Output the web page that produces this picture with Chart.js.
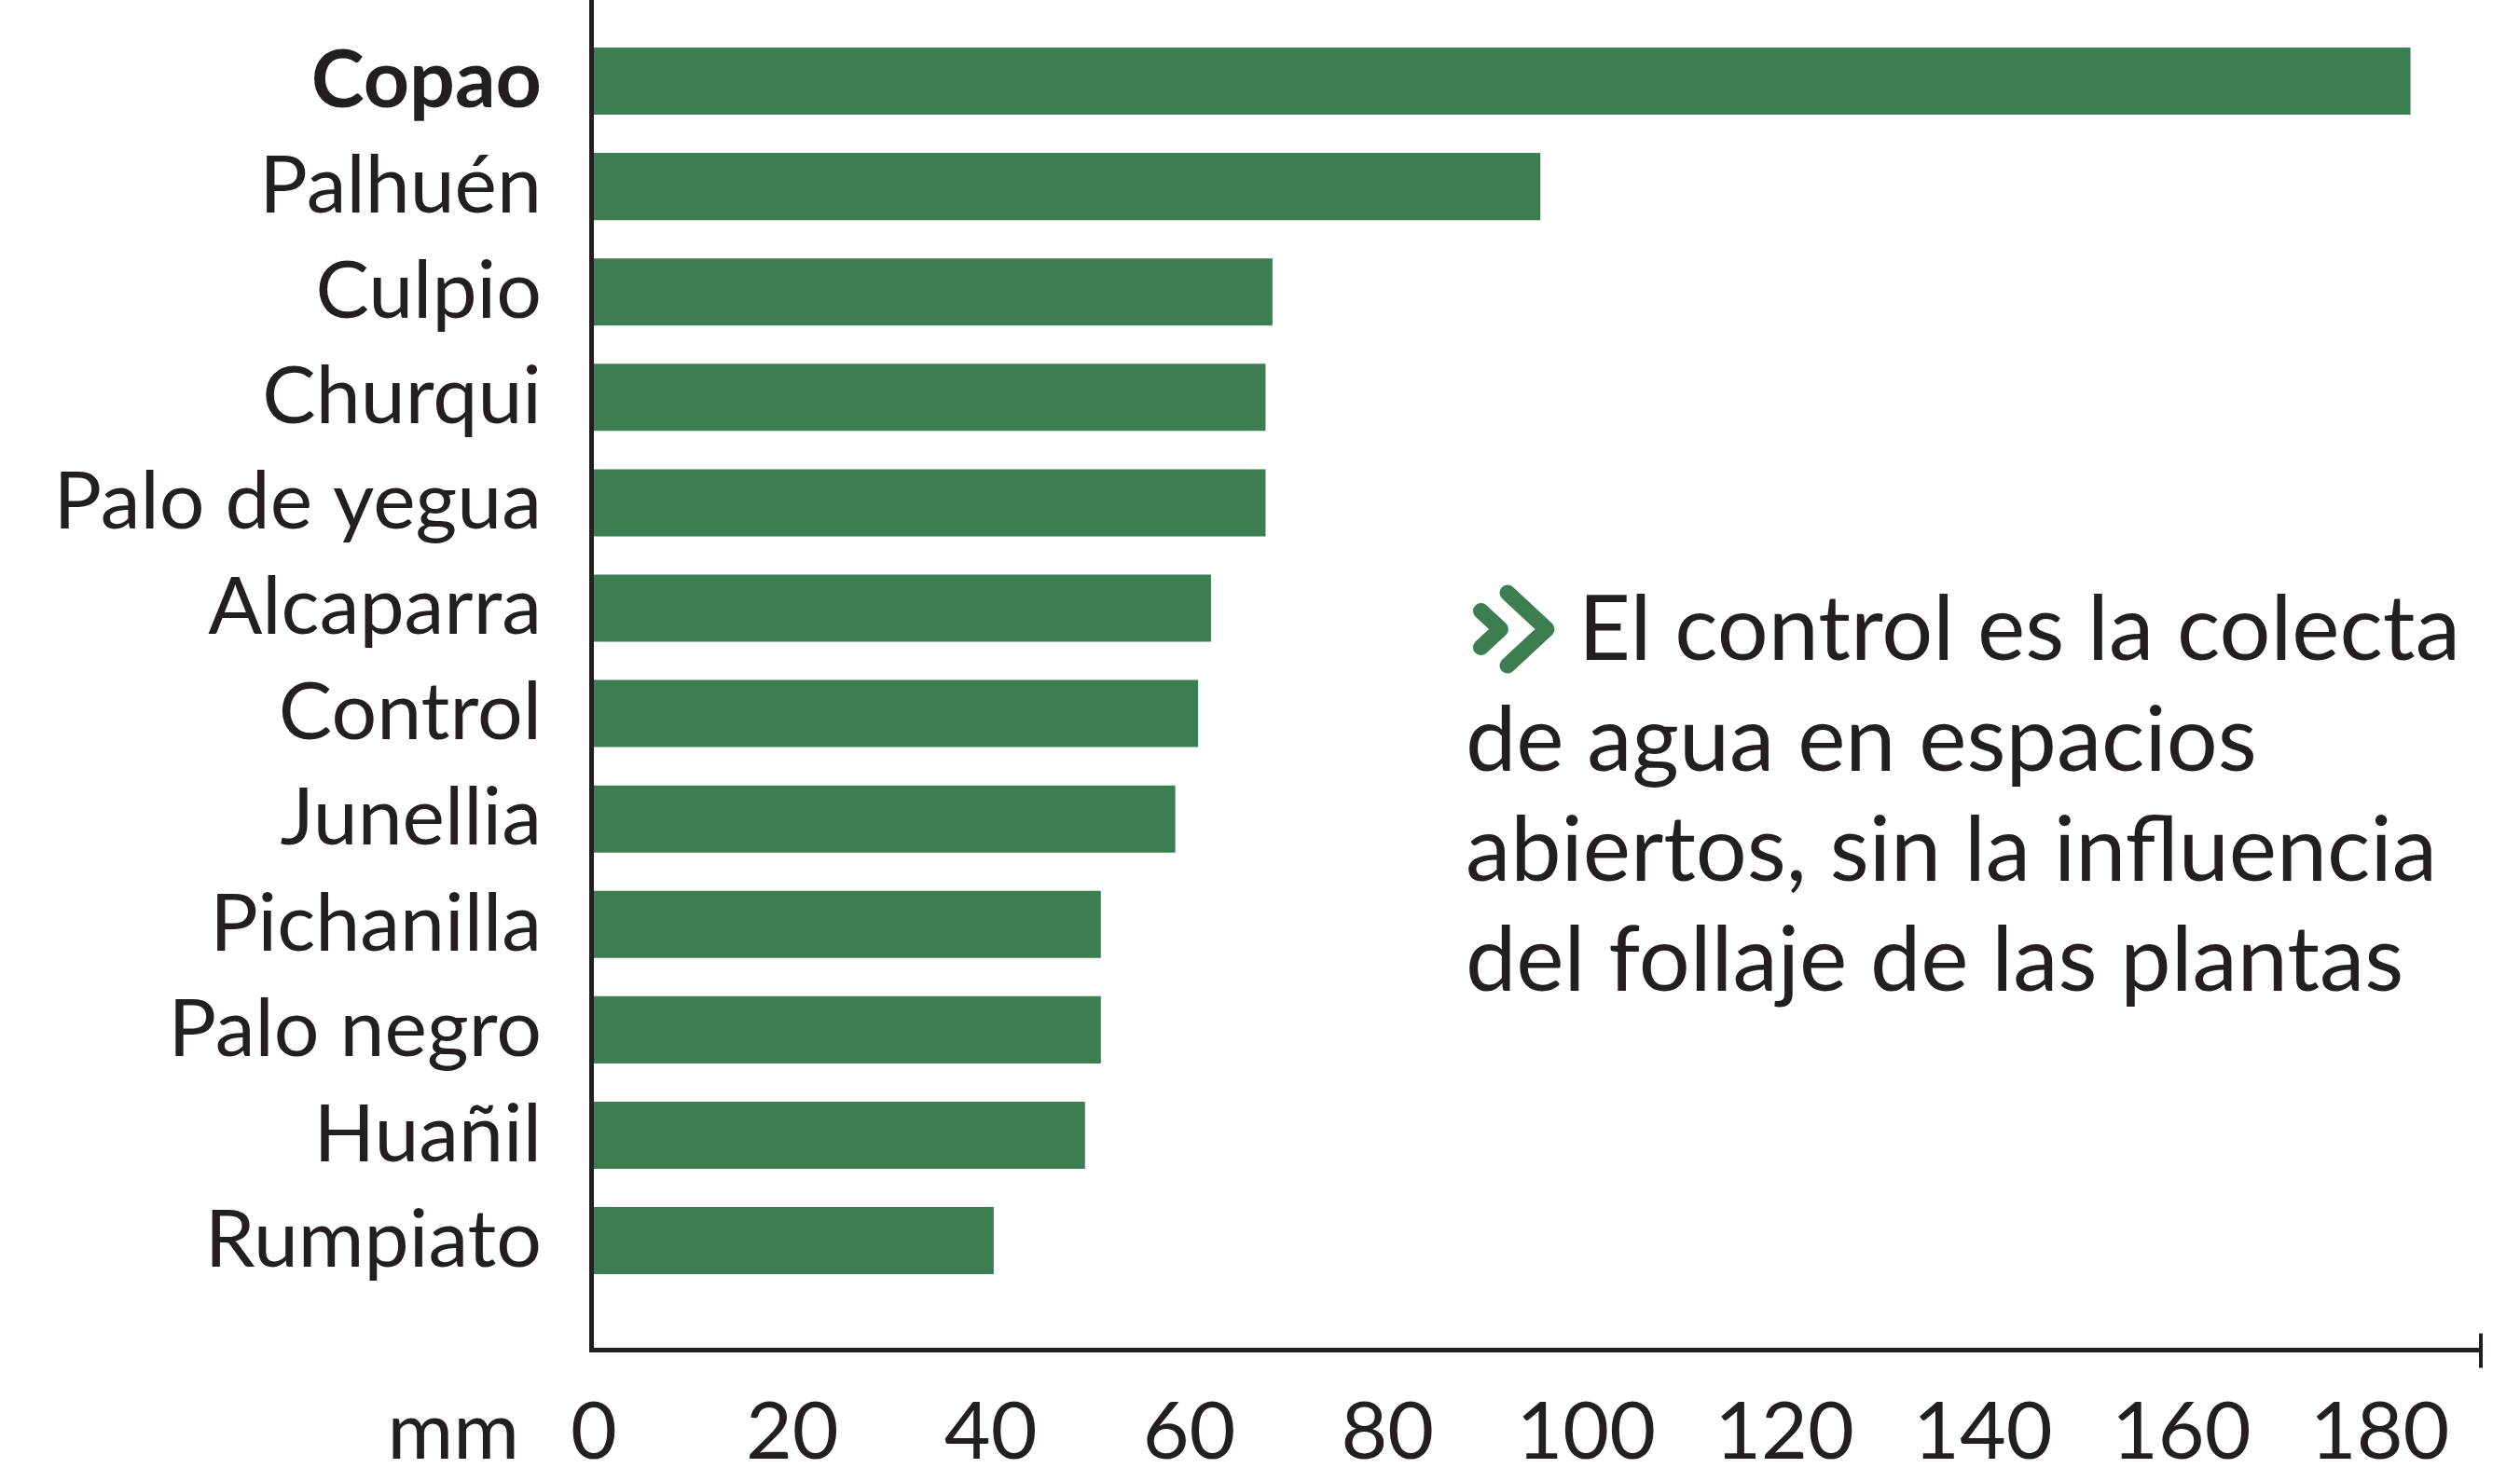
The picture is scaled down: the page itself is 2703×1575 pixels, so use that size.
<!DOCTYPE html>
<html>
<head>
<meta charset="utf-8">
<script src="https://cdn.jsdelivr.net/npm/chart.js@4.4.1/dist/chart.umd.min.js"></script>
<style>
  html, body { margin: 0; padding: 0; background: #fff; }
  canvas { display: block; }
</style>
</head>
<body>
<canvas id="myChart" width="2703" height="1575"></canvas>
<script>
const categories = ['Copao', 'Palhuén', 'Culpio', 'Churqui', 'Palo de yegua', 'Alcaparra', 'Control', 'Junellia', 'Pichanilla', 'Palo negro', 'Huañil', 'Rumpiato'];
const values = [183.1, 95.4, 68.4, 67.7, 67.7, 62.2, 60.9, 58.6, 51.1, 51.1, 49.5, 40.3];
const xTicks = [0, 20, 40, 60, 80, 100, 120, 140, 160, 180];
const xMax = 190;
const unitLabel = 'mm';
const noteLines = ['El control es la colecta', 'de agua en espacios', 'abiertos, sin la influencia', 'del follaje de las plantas'];

const INK = '#231f20';
const GREEN = '#3c7d52';
const FONT = 'Lato, "Noto Sans", sans-serif';
const LABEL_SIZE = 86;
const X_PAD = 98;

// axis lines, unit label and the side note
const extras = {
  id: 'extras',
  afterDraw(chart) {
    const { ctx, chartArea, scales: { x } } = chart;
    const axisX = chartArea.left - 2.5;
    const axisY = chartArea.bottom + 61;
    ctx.save();
    ctx.strokeStyle = INK;
    ctx.lineWidth = 5;
    ctx.beginPath();
    ctx.moveTo(axisX, 0);
    ctx.lineTo(axisX, axisY + 2.5);
    ctx.moveTo(axisX - 2.5, axisY);
    ctx.lineTo(x.right + 4, axisY);
    ctx.stroke();
    ctx.lineWidth = 4;
    ctx.beginPath();
    ctx.moveTo(x.right + 2, axisY - 18);
    ctx.lineTo(x.right + 2, axisY + 19);
    ctx.stroke();

    ctx.fillStyle = INK;
    ctx.font = LABEL_SIZE + 'px ' + FONT;
    ctx.textAlign = 'right';
    ctx.textBaseline = 'middle';
    ctx.fillText(unitLabel, x.getPixelForValue(0) - 80, x.top + X_PAD + LABEL_SIZE * 0.6);

    // note
    const left = 1572;
    const baselines = [708, 827, 945, 1063];
    ctx.strokeStyle = GREEN;
    ctx.lineWidth = 17;
    ctx.lineCap = 'round';
    ctx.lineJoin = 'round';
    ctx.beginPath();
    ctx.moveTo(left + 16.5, 655.5);
    ctx.lineTo(left + 37.5, 675);
    ctx.lineTo(left + 16.5, 694.5);
    ctx.moveTo(left + 45, 636);
    ctx.lineTo(left + 87, 675);
    ctx.lineTo(left + 45, 714);
    ctx.stroke();

    ctx.font = '97px ' + FONT;
    ctx.textAlign = 'left';
    ctx.textBaseline = 'alphabetic';
    noteLines.forEach((line, i) => {
      ctx.fillText(line, i === 0 ? 1693 : left, baselines[i]);
    });
    ctx.restore();
  }
};

const ctx = document.getElementById('myChart');
new Chart(ctx, {
  type: 'bar',
  data: {
    labels: categories,
    datasets: [{
      data: values,
      backgroundColor: GREEN,
      borderWidth: 0,
      barPercentage: 0.637,
      categoryPercentage: 1
    }]
  },
  options: {
    indexAxis: 'y',
    responsive: false,
    animation: false,
    devicePixelRatio: 1,
    layout: { padding: { top: 30.5, right: 44, left: 0, bottom: 0 } },
    plugins: { legend: { display: false }, tooltip: { enabled: false } },
    scales: {
      x: {
        min: 0,
        max: xMax,
        grid: { display: false, drawTicks: false },
        border: { display: false },
        afterFit: scale => {
          scale.height = 187.4;
          scale.paddingLeft = 0;
          scale.paddingRight = 0;
        },
        afterBuildTicks: scale => { scale.ticks = xTicks.map(v => ({ value: v })); },
        ticks: {
          autoSkip: false,
          maxRotation: 0,
          padding: X_PAD,
          color: INK,
          font: { family: FONT, size: LABEL_SIZE }
        }
      },
      y: {
        grid: { display: false, drawTicks: false },
        border: { display: false },
        afterFit: scale => {
          scale.width = 637;
          scale.paddingTop = 0;
          scale.paddingBottom = 0;
        },
        ticks: {
          autoSkip: false,
          padding: 56,
          color: INK,
          font: c => ({ family: FONT, size: LABEL_SIZE, weight: c.index === 0 ? 'bold' : 'normal' })
        }
      }
    }
  },
  plugins: [extras]
});
</script>
</body>
</html>
